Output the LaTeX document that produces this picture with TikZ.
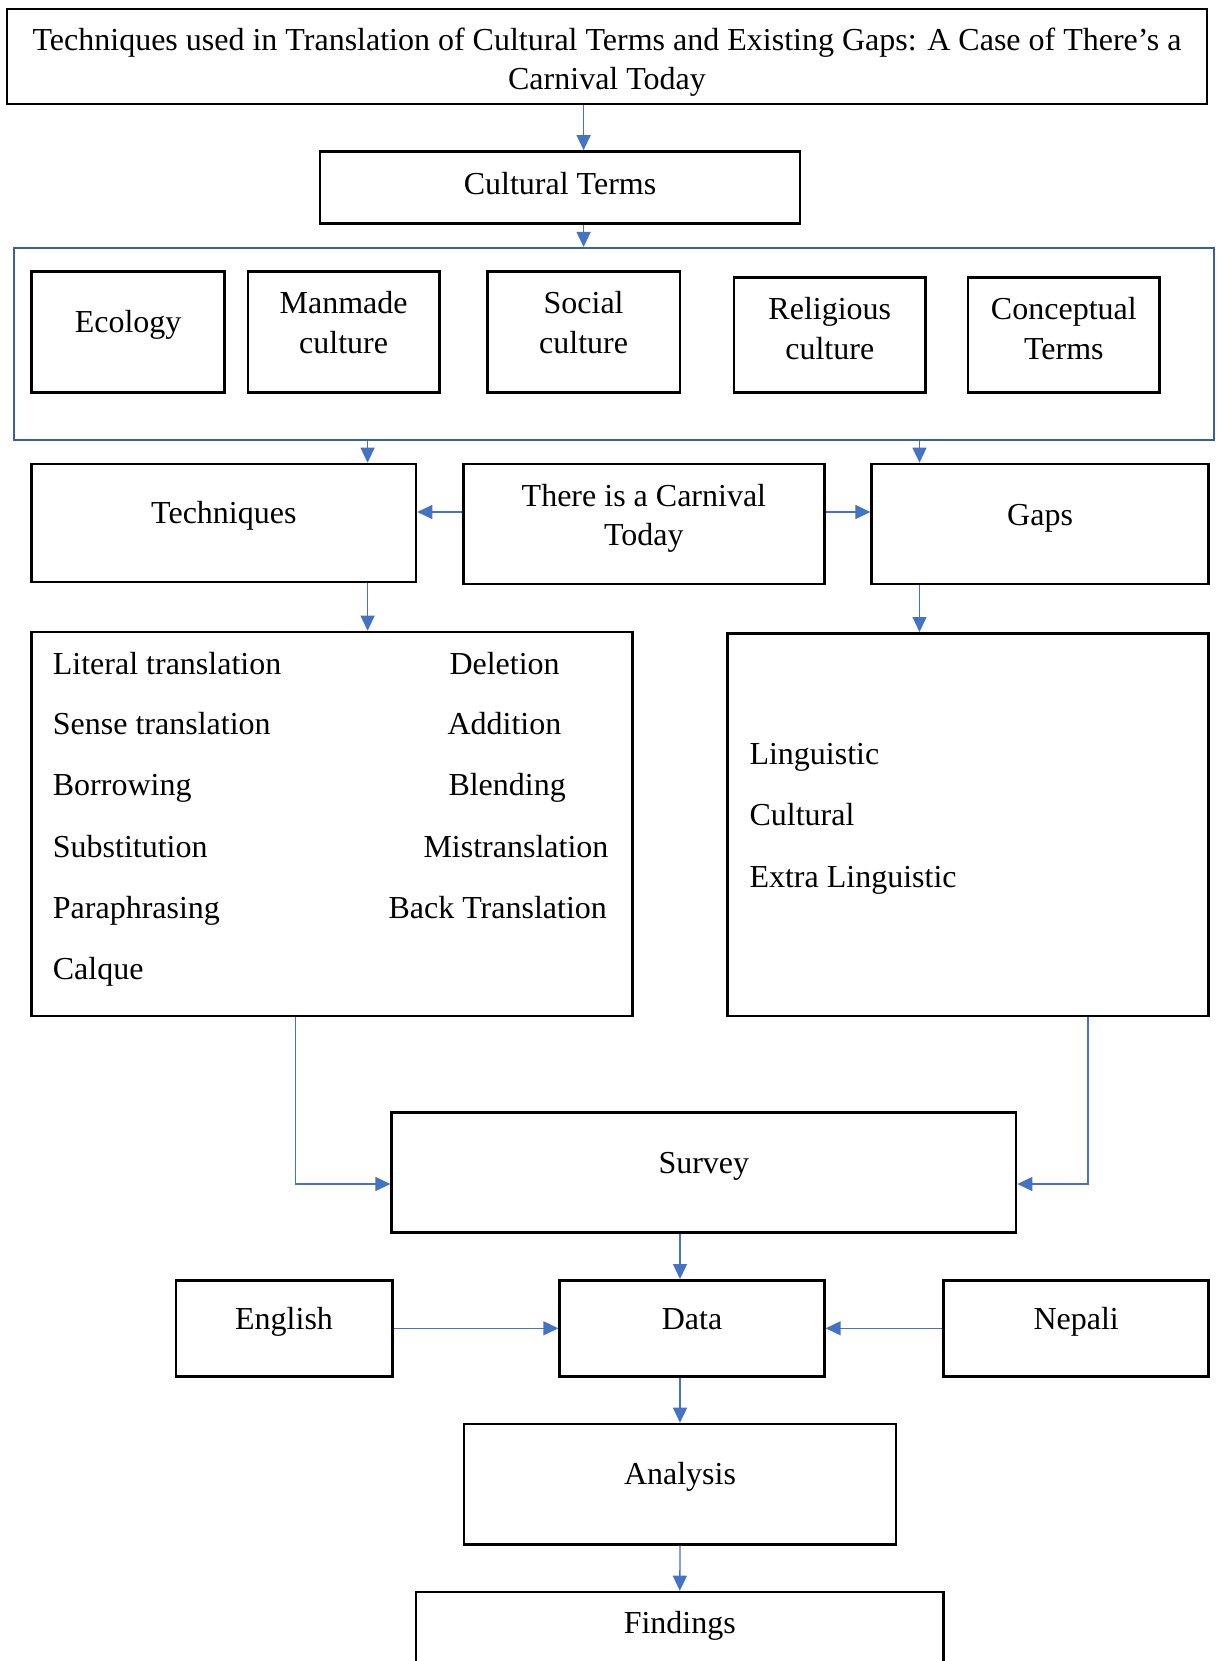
\documentclass[tikz,border=0pt]{standalone}
\usepackage{fontspec}
\setmainfont{Liberation Serif}
\usetikzlibrary{arrows.meta}
\definecolor{arrblue}{RGB}{68,114,196}
\definecolor{frameblue}{RGB}{56,94,168}
\begin{document}
\begin{tikzpicture}[x=1pt,y=-1pt,
  box/.style={draw=black,line width=2.6pt,rectangle,inner sep=0pt},
  frame/.style={draw=frameblue,line width=2pt,rectangle,inner sep=0pt},
  txt/.style={font=\fontsize{32}{39.5}\selectfont,inner sep=0pt,anchor=base,align=center},
  ltxt/.style={font=\fontsize{32}{39.5}\selectfont,inner sep=0pt,anchor=base west},
  arr/.style={draw=arrblue,line width=1.3pt,-{Triangle[length=15pt,width=14pt]}}]
\fill[white] (0,0) rectangle (1218,1661);
\clip (0,0) rectangle (1218,1661);
% boxes
\node[box,minimum width=1200pt,minimum height=95pt] (title) at (607,56.5) {};
\node[box,minimum width=480pt,minimum height=72pt] (ct) at (560,187.5) {};
\node[frame,minimum width=1200.2pt,minimum height=192pt] (blue) at (613.9,344) {};
\node[box,minimum width=192.8pt,minimum height=120.8pt] (eco) at (128.1,331.9) {};
\node[box,minimum width=191.7pt,minimum height=120.8pt] (man) at (343.65,331.9) {};
\node[box,minimum width=192.8pt,minimum height=120.8pt] (soc) at (583.6,331.9) {};
\node[box,minimum width=191.6pt,minimum height=114.6pt] (rel) at (829.8,335) {};
\node[box,minimum width=191.7pt,minimum height=114.6pt] (con) at (1063.85,335) {};
\node[box,minimum width=384.3pt,minimum height=118pt] (tech) at (223.85,523) {};
\node[box,minimum width=360.8pt,minimum height=120pt] (carn) at (643.9,524) {};
\node[box,minimum width=336.8pt,minimum height=120pt] (gaps) at (1040.1,524) {};
\node[box,minimum width=601pt,minimum height=384pt] (tlist) at (332.2,824) {};
\node[box,minimum width=480.8pt,minimum height=382.7pt] (glist) at (968.1,824.65) {};
\node[box,minimum width=624.3pt,minimum height=120pt] (survey) at (703.85,1172.3) {};
\node[box,minimum width=216.5pt,minimum height=96pt] (eng) at (284.05,1328.3) {};
\node[box,minimum width=264.6pt,minimum height=96pt] (data) at (692,1328.3) {};
\node[box,minimum width=265pt,minimum height=96pt] (nep) at (1076.2,1328.3) {};
\node[box,minimum width=432pt,minimum height=120.3pt] (ana) at (680,1484.15) {};
\node[box,minimum width=527.6pt,minimum height=120pt] (find) at (679.8,1652) {};
% texts (multi-line nodes: base = last line's baseline)
\node[txt,font=\fontsize{32}{38.5}\selectfont] (ttitle) at (607,89.3) {Techniques used in Translation of Cultural Terms and Existing Gaps: A Case of There’s a\\Carnival Today};
\node[txt] (tct) at (560,195) {Cultural Terms};
\node[txt] (teco) at (128.1,332) {Ecology};
\node[txt] (tman) at (343.65,353) {Manmade\\culture};
\node[txt] (tsoc) at (583.6,353) {Social\\culture};
\node[txt] (trel) at (829.8,359) {Religious\\culture};
\node[txt] (tcon) at (1063.85,359) {Conceptual\\Terms};
\node[txt] (ttech) at (223.85,523.5) {Techniques};
\node[txt] (tcarn) at (643.9,545.5) {There is a Carnival\\Today};
\node[txt] (tgaps) at (1040.1,525) {Gaps};
\node[ltxt] (l1) at (52.7,674) {Literal translation};
\node[ltxt] (l2) at (52.7,734.5) {Sense translation};
\node[ltxt] (l3) at (52.7,795.5) {Borrowing};
\node[ltxt] (l4) at (52.7,857) {Substitution};
\node[ltxt] (l5) at (52.7,918) {Paraphrasing};
\node[ltxt] (l6) at (52.7,979) {Calque};
\node[ltxt] (r1) at (449.3,674) {Deletion};
\node[ltxt] (r2) at (447.3,734.5) {Addition};
\node[ltxt] (r3) at (448.3,795.5) {Blending};
\node[ltxt] (r4) at (423.3,857) {Mistranslation};
\node[ltxt] (r5) at (388.3,918) {Back Translation};
\node[ltxt] (g1) at (749.3,764.5) {Linguistic};
\node[ltxt] (g2) at (749.3,825.5) {Cultural};
\node[ltxt] (g3) at (749.3,887) {Extra Linguistic};
\node[txt] (tsurvey) at (703.85,1173) {Survey};
\node[txt] (teng) at (284.05,1329.5) {English};
\node[txt] (tdata) at (692,1329) {Data};
\node[txt] (tnep) at (1076.2,1329) {Nepali};
\node[txt] (tana) at (680,1484.5) {Analysis};
\node[txt] (tfind) at (679.8,1633) {Findings};
% connector guide coordinates
\coordinate (xa) at (583.6,0);
\coordinate (xb) at (367.6,0);
\coordinate (xc) at (919.5,0);
\coordinate (ya) at (0,512);
\coordinate (xd) at (295.7,0);
\coordinate (xe) at (1088,0);
\coordinate (yb) at (0,1184);
% connectors
\draw[arr] (title.south -| xa) -- (ct.north -| xa);
\draw[arr] (ct.south -| xa) -- (blue.north -| xa);
\draw[arr] (blue.south -| xb) -- (tech.north -| xb);
\draw[arr] (blue.south -| xc) -- (gaps.north -| xc);
\draw[arr] (carn.west |- ya) -- (tech.east |- ya);
\draw[arr] (carn.east |- ya) -- (gaps.west |- ya);
\draw[arr] (tech.south -| xb) -- (tlist.north -| xb);
\draw[arr] (gaps.south -| xc) -- (glist.north -| xc);
\draw[arr] (tlist.south -| xd) |- (survey.west |- yb);
\draw[arr] (glist.south -| xe) |- (survey.east |- yb);
\draw[arr] (survey.south -| ana.north) -- (data.north -| ana.north);
\draw[arr] (eng.east) -- (data.west);
\draw[arr] (nep.west) -- (data.east);
\draw[arr] (data.south -| ana.north) -- (ana.north);
\draw[arr] (ana.south) -- (find.north);
\end{tikzpicture}
\end{document}
